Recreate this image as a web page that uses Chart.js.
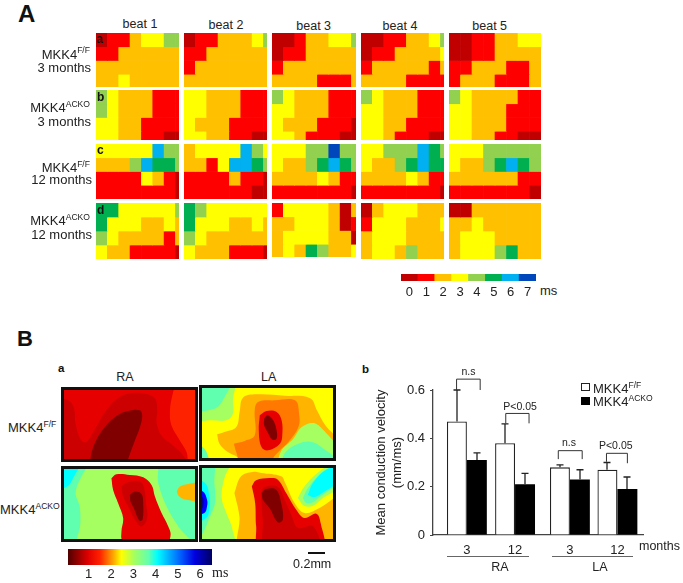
<!DOCTYPE html>
<html><head><meta charset="utf-8">
<script src="https://cdn.jsdelivr.net/npm/chart.js@4/dist/chart.umd.min.js"></script>
<style>
html,body{margin:0;padding:0;background:#fff;overflow:hidden}
#page{position:relative;width:683px;height:583px;overflow:hidden;font-family:"Liberation Sans",Arial,sans-serif;color:#222}
#page canvas{position:absolute;display:block}
.t{position:absolute;line-height:0;white-space:nowrap}
.t sup{font-size:.66em;line-height:0;vertical-align:baseline;position:relative;top:-.62em}
.frame{position:absolute;border:3px solid #111;box-sizing:content-box}
.frame canvas{left:0;top:0}
.box{position:absolute}
</style></head><body><div id="page"></div>
<script>
// ---------- Panel A: activation level (ms) of each electrode cell ----------
const beats = ['beat 1','beat 2','beat 3','beat 4','beat 5'];
const msLabels = ['0','1','2','3','4','5','6','7'];
const msColors = ['#c00000','#ff0000','#ffc000','#ffff00','#92d050','#00b050','#00b0f0','#0047bb'];

const a1=[[0,1,1,2,3,3,4,4],[1,1,2,2,2,2,2,2],[2,2,2,2,2,2,2,2],[2,2,3,2,2,2,2,2]];
const a2=[[0,1,1,2,2,2,3,4],[1,1,2,2,2,2,2,2],[1,2,2,2,2,2,2,2],[2,2,2,2,2,2,2,2]];
const a3=[[0,0,1,2,2,3,3,4],[0,1,1,2,2,2,2,2],[1,2,2,2,2,2,2,2],[2,2,2,2,1,1,1,2]];
const a4=[[0,0,1,1,2,2,3,4],[0,1,1,2,2,2,2,3],[1,2,2,2,2,2,1,2],[2,2,2,2,1,1,1,1]];
const a5=[[0,0,1,1,2,2,3,3],[0,0,1,1,2,2,2,2],[1,1,2,2,2,1,1,2],[1,2,2,2,1,1,1,2]];
const b1=[[4,3,2,2,2,1,1,1],[4,3,2,2,2,1,1,1],[3,3,2,2,1,1,1,1],[3,3,2,2,1,1,0,0]];
const b2=[[3,3,2,2,2,1,1,1],[3,3,2,2,2,1,1,1],[3,2,2,2,1,1,1,1],[3,3,2,2,1,1,0,0]];
const b3=[[4,3,2,2,2,1,1,1],[3,3,2,2,2,1,1,1],[3,2,2,2,1,1,1,0],[3,3,2,1,1,1,0,0]];
const b4=[[4,3,2,2,2,1,1,1],[3,3,2,2,2,1,1,1],[3,3,2,2,1,1,1,1],[3,3,2,1,1,1,0,0]];
const b5=[[4,3,2,2,2,2,1,1],[3,3,2,2,2,1,1,1],[3,3,2,2,2,1,1,1],[3,3,2,2,1,1,0,0]];
const c1=[[3,3,3,3,3,6,4,4],[2,2,2,4,6,5,5,4],[1,1,1,1,3,2,1,0],[1,1,1,1,1,1,1,0]];
const c2=[[2,3,3,3,3,6,4,3],[2,2,1,3,6,6,5,4],[1,1,1,1,2,1,1,0],[1,1,1,1,1,1,0,0]];
const c3=[[3,3,3,4,4,7,4,4],[3,2,2,4,5,6,5,4],[2,2,2,2,3,2,1,1],[1,1,1,1,1,1,1,0]];
const c4=[[3,3,4,4,4,6,5,4],[3,2,2,4,5,6,5,5],[2,2,2,2,3,2,1,1],[1,1,1,1,1,1,1,0]];
const c5=[[3,3,3,4,4,4,4,4],[3,2,2,4,5,6,5,4],[2,2,2,2,2,2,1,1],[1,1,1,1,1,1,1,0]];
const d1=[[5,5,3,3,3,3,3,4],[5,3,3,3,2,2,3,2],[4,3,2,2,2,2,1,2],[3,2,2,1,1,1,1,0]];
const d2=[[5,4,3,3,3,3,3,3],[5,3,3,3,2,2,3,2],[4,3,2,2,2,2,2,2],[3,2,2,2,1,1,1,0]];
const d3=[[1,3,3,3,3,2,0,2],[2,2,3,3,3,2,0,1],[2,3,3,3,3,2,2,0],[2,3,2,5,4,2,2,3]];
const d4=[[0,2,3,3,3,2,2,2],[1,3,3,3,2,2,2,3],[2,3,3,3,2,2,2,2],[2,3,3,2,4,2,2,2]];
const d5=[[0,0,2,2,2,2,2,2],[2,2,3,2,2,2,2,2],[2,3,3,3,2,2,2,2],[2,3,3,3,4,5,2,2]];
const heatRows=[[a1,a2,a3,a4,a5],[b1,b2,b3,b4,b5],[c1,c2,c3,c4,c5],[d1,d2,d3,d4,d5]];

// ---------- Panel B a: contour layers, back to front ----------
const maroon='#800000',midRed='#cc0000',red='#e60000',bright='#ff2200',dkOrange='#ff7800',
      orange='#ffb400',yellow='#ffff00',lime='#a5ff60',aqua='#60ffb0',cyan='#00ffff',blue='#0000ff',navy='#0000a0';
const mapRaFF=[
 {c:red,p:[[-40,-40],[460,-40],[460,280],[-40,280]]},
 {c:bright,p:[[350,-10],[338,30],[330,80],[335,125],[360,170],[380,205],[390,250],[440,250],[440,-10]]},
 {c:midRed,p:[[-20,38],[25,48],[42,70],[48,120],[62,165],[78,175],[100,145],[135,85],[170,45],[205,28],[255,28],[285,42],[292,80],[290,115],[305,155],[340,185],[370,215],[385,250],[-20,250]]},
 {c:maroon,p:[[88,250],[100,190],[130,135],[170,95],[205,80],[240,78],[247,95],[240,130],[225,170],[205,225],[198,250]]}];
const mapLaFF=[
 {c:yellow,p:[[-40,-40],[460,-40],[460,280],[-40,280]]},
 {c:lime,p:[[-20,-20],[108,-20],[105,50],[105,90],[85,110],[45,110],[-20,105]]},
 {c:aqua,p:[[-20,-20],[98,-20],[75,50],[50,75],[-20,76]]},
 {c:aqua,p:[[-20,180],[15,190],[30,215],[35,250],[-20,250]]},
 {c:orange,p:[[58,152],[80,145],[115,130],[125,85],[135,42],[175,32],[260,36],[335,44],[355,80],[380,125],[425,180],[425,260],[140,260],[120,222],[90,205],[65,180]]},
 {c:lime,p:[[235,250],[250,200],[285,165],[310,130],[345,118],[375,140],[425,205],[425,250]]},
 {c:aqua,p:[[245,250],[262,205],[300,180],[340,175],[375,195],[425,235],[425,250]]},
 {c:dkOrange,p:[[108,180],[140,172],[170,155],[170,80],[180,55],[230,50],[290,50],[302,90],[300,130],[270,175],[240,205],[225,225],[230,250],[135,250],[115,205]]},
 {c:red,p:[[185,95],[205,82],[235,85],[250,110],[252,155],[245,180],[210,200],[190,190],[182,140]]},
 {c:maroon,p:[[198,105],[208,95],[225,110],[235,140],[235,165],[222,168],[208,145],[198,125]]}];
const mapRaKO=[
 {c:aqua,p:[[-40,-40],[460,-40],[460,280],[-40,280]]},
 {c:lime,p:[[95,-10],[60,50],[48,90],[60,130],[62,180],[60,250],[395,250],[355,190],[320,130],[295,60],[285,-10]]},
 {c:cyan,p:[[-20,-20],[66,-20],[40,45],[22,70],[-20,78]]},
 {c:orange,p:[[350,85],[360,70],[385,62],[440,58],[440,112],[380,110],[358,100]]},
 {c:red,p:[[155,45],[170,33],[210,35],[250,42],[275,65],[285,100],[305,150],[325,190],[332,215],[322,235],[190,232],[185,205],[190,165],[175,120],[160,80]]},
 {c:midRed,p:[[185,70],[205,57],[240,55],[253,75],[258,120],[262,165],[245,190],[225,170],[205,130],[190,100]]},
 {c:maroon,p:[[210,95],[225,85],[245,92],[250,120],[248,170],[238,172],[222,135],[212,115]]}];
const mapLaKO=[
 {c:yellow,p:[[-40,-40],[460,-40],[460,280],[-40,280]]},
 {c:lime,p:[[-20,-20],[103,-20],[80,45],[72,105],[88,155],[103,195],[107,250],[-20,250]]},
 {c:aqua,p:[[-20,-20],[45,-20],[50,60],[52,120],[35,165],[15,210],[-20,250]]},
 {c:cyan,p:[[-20,45],[22,60],[35,100],[35,140],[25,165],[-20,180]]},
 {c:blue,p:[[-20,80],[15,85],[28,110],[28,130],[20,150],[-20,155]]},
 {c:navy,p:[[-20,95],[12,100],[18,118],[12,138],[-20,142]]},
 {c:orange,p:[[110,90],[130,40],[165,27],[190,30],[250,40],[262,60],[290,120],[320,150],[365,135],[440,95],[440,260],[130,260],[125,160]]},
 {c:lime,p:[[300,105],[320,70],[365,25],[400,5],[440,5],[440,60],[375,105],[345,128],[318,128]]},
 {c:aqua,p:[[315,105],[330,75],[370,30],[405,10],[440,10],[440,45],[370,98],[345,118],[325,120]]},
 {c:cyan,p:[[330,95],[345,60],[385,20],[440,8],[440,40],[365,95],[345,102]]},
 {c:red,p:[[162,70],[175,52],[215,45],[240,50],[265,90],[295,140],[320,165],[355,152],[368,180],[372,250],[185,250],[175,190],[172,120]]},
 {c:midRed,p:[[190,90],[200,72],[240,72],[260,110],[280,155],[300,195],[345,190],[360,250],[205,250],[195,170]]},
 {c:maroon,p:[[192,90],[205,78],[235,80],[250,120],[255,170],[240,178],[215,135],[195,110]]}];

// continuous colour bar
const jetStops=[[0,'#500000'],[.14,'#e00000'],[.22,'#ff2000'],[.31,'#ffa000'],[.37,'#ffff00'],[.46,'#a5ff60'],[.56,'#60ffb0'],[.62,'#00ffff'],[.78,'#0060ff'],[.88,'#0000e0'],[1,'#000060']];
const msTicks=[1,2,3,4,5,6];

// ---------- Panel B b: mean conduction velocity ----------
const months=['3','12','3','12'];
const groupSlots=[1,2,3.138,4.124];
const ffMeans=[0.47,0.38,0.28,0.27];
const koMeans=[0.31,0.21,0.23,0.19];
const ffErrTop=[0.60,0.46,0.29,0.30];
const koErrTop=[0.34,0.255,0.27,0.24];
const brackets=[
 {x1:.786,x2:1.276,top:.645,y1:.60,y2:.60,label:'n.s',lx:1.034,ly:.662},
 {x1:1.807,x2:2.290,top:.503,y1:.462,y2:.462,label:'P<0.05',lx:2.103,ly:.517},
 {x1:2.897,x2:3.393,top:.349,y1:.314,y2:.314,label:'n.s',lx:3.117,ly:.370},
 {x1:3.897,x2:4.331,top:.338,y1:.303,y2:.297,label:'P<0.05',lx:4.09,ly:.356}];

// ---------- helpers ----------
const page=document.getElementById('page');
Chart.defaults.font.family='"Liberation Sans",Arial,sans-serif';
Chart.defaults.color='#222';
function base(extra){return Object.assign({responsive:false,animation:false,devicePixelRatio:1,
  layout:{padding:0},plugins:{legend:{display:false},tooltip:{enabled:false},title:{display:false}},
  events:[]},extra);}
function cv(l,t,w,h,parent){const c=document.createElement('canvas');c.width=w;c.height=h;
  c.style.left=l+'px';c.style.top=t+'px';c.style.width=w+'px';c.style.height=h+'px';(parent||page).appendChild(c);return c;}
function text(html,x,base,size,o){o=o||{};const s=document.createElement('div');s.className='t';s.innerHTML=html;
  s.style.left=x+'px';s.style.top=(base-.3465*size)+'px';s.style.fontSize=size+'px';
  if(o.bold)s.style.fontWeight='bold';if(o.color)s.style.color=o.color;if(o.font)s.style.fontFamily=o.font;
  s.style.transform=o.a==='c'?'translateX(-50%)':o.a==='r'?'translateX(-100%)':'none';page.appendChild(s);}
function box(l,t,w,h,css){const d=document.createElement('div');d.className='box';d.style.cssText+=`left:${l}px;top:${t}px;width:${w}px;height:${h}px;${css}`;page.appendChild(d);}

// ---------- heat panels ----------
const heatX=[96,184,272,361,449], heatW=[83,83,84,83,92];
const heatY=[33,90,144,203], heatH=[54,50,55,56];
const cellW=11.35, cellH=13.75;
heatRows.forEach((row,r)=>row.forEach((grid,c)=>{
  const w=heatW[c],h=(r===3&&c===2)?54:heatH[r];
  const datasets=grid.map(levels=>({
    data:levels.map((_,i)=>({x:i+.5,y:1})),
    backgroundColor:levels.map(v=>msColors[v]),
    borderWidth:0,barPercentage:1,categoryPercentage:1}));
  new Chart(cv(heatX[c],heatY[r],w,h),{type:'bar',data:{datasets},options:base({
    scales:{x:{type:'linear',display:false,offset:false,stacked:true,min:0,max:Math.min(8,w/cellW)},
            y:{display:false,stacked:true,reverse:true,min:0,max:Math.min(4,h/cellH)}}})});
}));

// ---------- stepped colour bar ----------
new Chart(cv(398,274,141,24),{type:'bar',
  data:{labels:msLabels,datasets:[{data:msLabels.map(()=>1),backgroundColor:msColors,borderWidth:0,barPercentage:1,categoryPercentage:1}]},
  options:base({layout:{padding:{left:3,right:3}},scales:{
    y:{display:false,min:0,max:1},
    x:{grid:{display:false,drawTicks:false},border:{display:false},
       ticks:{font:{size:13},padding:4,maxRotation:0,minRotation:0,autoSkip:false,color:'#222'},
       afterFit(s){s.height=17;}}}})});

// ---------- contour maps ----------
function contour(layers,left,top,w,h,xr,yr){
  const fr=document.createElement('div');fr.className='frame';
  fr.style.cssText+=`left:${left-3}px;top:${top-3}px;width:${w}px;height:${h}px`;page.appendChild(fr);
  const n=layers.length;
  const datasets=layers.map((l,i)=>{const pts=l.p.concat([l.p[0]]).map(q=>({x:q[0],y:q[1]}));
    return {data:pts,showLine:true,fill:'shape',backgroundColor:l.c,borderWidth:0,borderColor:l.c,
      pointRadius:0,tension:.38,capBezierPoints:false,order:n-i};});
  new Chart(cv(0,0,w,h,fr),{type:'scatter',data:{datasets},options:base({
    scales:{x:{type:'linear',display:false,min:xr[0],max:xr[1]},y:{display:false,reverse:true,min:yr[0],max:yr[1]}}})});
}
contour(mapRaFF,64,390,131,69,[13,405],[17,225]);
contour(mapLaFF,202,388,131,70,[13,403],[13,223]);
contour(mapRaKO,64,469,131,70,[13,405],[17,228]);
contour(mapLaKO,202,468,131,71,[13,405],[15,228]);

// ---------- continuous colour bar ----------
new Chart(cv(60,549,160,34),{type:'bar',
  data:{labels:['ms'],datasets:[{data:[[0.07,6.53]],borderWidth:0,barPercentage:1,categoryPercentage:1,
    backgroundColor(ctx){const a=ctx.chart.chartArea;if(!a)return '#000';
      const g=ctx.chart.ctx.createLinearGradient(a.left,0,a.right,0);jetStops.forEach(s=>g.addColorStop(s[0],s[1]));return g;}}]},
  options:base({indexAxis:'y',layout:{padding:{left:8,right:8}},scales:{
    y:{display:false},
    x:{type:'linear',min:0.07,max:6.53,grid:{display:false,drawTicks:false},border:{display:false},
       afterBuildTicks(s){s.ticks=msTicks.map(v=>({value:v}));},
       ticks:{font:{size:13},padding:2,color:'#222',maxRotation:0,autoSkip:false},
       afterFit(s){s.height=18;}}}})});

// ---------- velocity bar chart ----------
const barExtras={id:'barExtras',afterDatasetsDraw(ch){
  const {ctx,scales:{x,y}}=ch;ctx.save();ctx.strokeStyle='#222';ctx.lineWidth=1.3;
  ch.data.datasets.forEach((ds,di)=>{const meta=ch.getDatasetMeta(di);
    ds.errTop.forEach((v,i)=>{const b=meta.data[i],px=Math.round(b.x),t=y.getPixelForValue(v);
      ctx.beginPath();ctx.moveTo(px,y.getPixelForValue(ds.data[i].y));ctx.lineTo(px,t);
      ctx.moveTo(px-3.5,t);ctx.lineTo(px+3.5,t);ctx.stroke();});});
  ctx.lineWidth=1;ctx.strokeStyle='#333';ctx.fillStyle='#222';ctx.font='10.5px "Liberation Sans"';ctx.textAlign='center';ctx.textBaseline='alphabetic';
  brackets.forEach(b=>{const x1=x.getPixelForValue(b.x1),x2=x.getPixelForValue(b.x2),t=y.getPixelForValue(b.top);
    ctx.beginPath();ctx.moveTo(x1,y.getPixelForValue(b.y1));ctx.lineTo(x1,t);ctx.lineTo(x2,t);ctx.lineTo(x2,y.getPixelForValue(b.y2));ctx.stroke();
    ctx.fillText(b.label,x.getPixelForValue(b.lx),y.getPixelForValue(b.ly));});
  ctx.restore();}};
new Chart(cv(370,368,313,215),{type:'bar',
  data:{datasets:[
   {label:'MKK4 F/F',data:ffMeans.map((v,i)=>({x:groupSlots[i],y:v})),errTop:ffErrTop,backgroundColor:'#fff',borderColor:'#222',borderWidth:1.3,barPercentage:1,categoryPercentage:.84},
   {label:'MKK4 ACKO',data:koMeans.map((v,i)=>({x:groupSlots[i],y:v})),errTop:koErrTop,backgroundColor:'#000',borderColor:'#000',borderWidth:0,barPercentage:1,categoryPercentage:.84}]},
  plugins:[barExtras],
  options:base({layout:{padding:{top:22,right:40}},scales:{
    x:{type:'linear',offset:false,min:.297,max:4.655,grid:{display:false,drawTicks:false},border:{color:'#444',width:1.3},
       afterBuildTicks(s){s.ticks=groupSlots.map(v=>({value:v}));},
       ticks:{font:{size:13},padding:8,color:'#222',maxRotation:0,autoSkip:false,callback(v,i){return months[i];}},
       afterFit(s){s.height=48;}},
    y:{min:0,max:.6,grid:{drawOnChartArea:false,drawTicks:true,tickLength:3,color:'#444'},border:{color:'#444',width:1.3},
       ticks:{stepSize:.2,font:{size:13},padding:5,color:'#222',callback(v){return v===0?'0':v.toFixed(1);}},
       title:{display:true,text:['Mean conduction velocity','(mm/ms)'],font:{size:13},color:'#222',padding:{top:4,bottom:0}},
       afterFit(s){s.width=63;}}}})});

// ---------- text & small marks ----------
text('A',18,22,24,{bold:1,color:'#111'});
text('B',17,347,22,{bold:1,color:'#111'});
text('a',58,372,11.5,{bold:1,color:'#111'});
text('b',362,373,11.5,{bold:1,color:'#111'});
[[140,28],[226,29],[313.7,30],[400,30],[489.7,30]].forEach((p,i)=>text(beats[i],p[0],p[1],12.5,{a:'c'}));
[['a',96.5,43],['b',97,101],['c',97,154],['d',97,214]].forEach(l=>text(l[0],l[1],l[2],12,{bold:1,color:'#111'}));
text('MKK4<sup>F/F</sup>',90,59.3,13,{a:'r'});
text('3 months',91,73,13,{a:'r'});
text('MKK4<sup>ACKO</sup>',90,113,13,{a:'r'});
text('3 months',91,126.7,13,{a:'r'});
text('MKK4<sup>F/F</sup>',90,173,13,{a:'r'});
text('12 months',92,185,13,{a:'r'});
text('MKK4<sup>ACKO</sup>',90,226,13,{a:'r'});
text('12 months',92,240,13,{a:'r'});
text('ms',540,296,13);
text('RA',125,381,12.5,{a:'c'});
text('LA',268.7,381,12.5,{a:'c'});
text('MKK4<sup>F/F</sup>',8,432.7,13);
text('MKK4<sup>ACKO</sup>',0,515,13);
text('ms',212,578,14,{font:'"Liberation Serif",serif'});
box(308,551.5,17,2.5,'background:#111');
text('0.2mm',293,568,12.5);
box(580.5,383,9,8,'background:#fff;border:1.3px solid #222;box-sizing:border-box');
box(580.5,396.5,9.5,8,'background:#000');
text('MKK4<sup>F/F</sup>',593,394,13);
text('MKK4<sup>ACKO</sup>',593,407,13);
text('months',639,550,12.5);
box(447,556,82,1.2,'background:#666');
box(552,556,81,1.2,'background:#666');
text('RA',500,571,12.5,{a:'c'});
text('LA',600,571,12.5,{a:'c'});
</script></body></html>
